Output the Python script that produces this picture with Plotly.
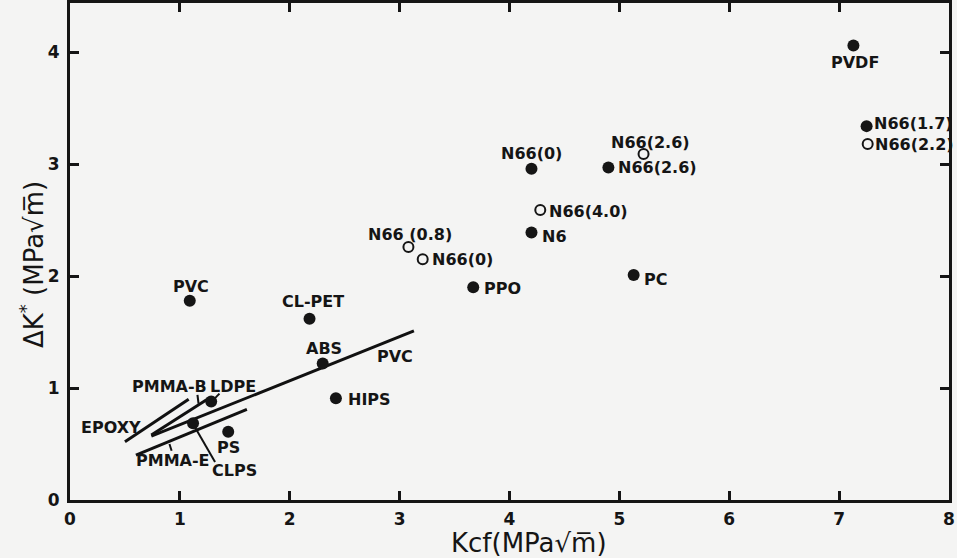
import plotly.graph_objects as go

# ---------------- data ----------------
filled_names = ["PVDF", "N66(1.7)", "N66(2.6)", "N66(0)", "N6", "PC", "PPO", "PVC",
                "CL-PET", "ABS", "HIPS", "LDPE", "CLPS", "PS"]
filled_x = [7.13, 7.25, 4.90, 4.20, 4.20, 5.13, 3.67, 1.09, 2.18, 2.30, 2.42, 1.285, 1.12, 1.44]
filled_y = [4.06, 3.34, 2.97, 2.96, 2.39, 2.01, 1.90, 1.78, 1.62, 1.22, 0.91, 0.88, 0.685, 0.61]

open_names = ["N66(2.2)", "N66(2.6)", "N66(4.0)", "N66(0.8)", "N66(0)"]
open_x = [7.26, 5.22, 4.28, 3.08, 3.21]
open_y = [3.18, 3.09, 2.59, 2.26, 2.15]

# trend lines (start / end)
line_names = ["PVC", "EPOXY", "PMMA-B", "PMMA-E"]
line_x0 = [0.74, 0.50, 0.74, 0.60]
line_y0 = [0.57, 0.52, 0.58, 0.40]
line_x1 = [3.13, 1.08, 1.25, 1.61]
line_y1 = [1.51, 0.90, 0.90, 0.81]

# short leader strokes from labels
leader_names = ["PMMA-B", "LDPE", "PMMA-E", "CLPS"]
leader_x0 = [1.16, 1.32, 0.905, 1.135]
leader_y0 = [0.94, 0.91, 0.50, 0.655]
leader_x1 = [1.17, 1.36, 0.925, 1.32]
leader_y1 = [0.86, 0.95, 0.44, 0.34]

# point / line labels
label_text = ["PVDF", "N66(1.7)", "N66(2.2)", "N66(2.6)", "N66(2.6)", "N66(0)", "N66(4.0)",
              "N6", "N66 (0.8)", "N66(0)", "PC", "PPO", "PVC", "CL-PET", "ABS", "PVC",
              "HIPS", "PMMA-B", "LDPE", "EPOXY", "PS", "PMMA-E", "CLPS"]
label_x = [7.14, 7.30, 7.31, 5.28, 4.97, 4.20, 4.34, 4.28, 3.09, 3.28, 5.21, 3.75, 1.10, 2.21,
           2.31, 2.96, 2.51, 0.91, 1.48, 0.37, 1.44, 0.94, 1.50]
label_y = [3.91, 3.36, 3.18, 3.19, 2.97, 3.10, 2.58, 2.35, 2.37, 2.15, 1.97, 1.89, 1.91, 1.77,
           1.35, 1.28, 0.90, 1.01, 1.01, 0.65, 0.47, 0.35, 0.26]
label_anchor = ["center", "left", "left", "center", "left", "center", "left", "left", "center",
                "left", "left", "left", "center", "center", "center", "center", "left",
                "center", "center", "center", "center", "center", "center"]

x_ticks = [0, 1, 2, 3, 4, 5, 6, 7, 8]
y_ticks = [0, 1, 2, 3, 4]

# ---------------- figure ----------------
fig = go.Figure()

lx, ly = [], []
for a, b, c, d in zip(line_x0, line_y0, line_x1, line_y1):
    lx += [a, c, None]
    ly += [b, d, None]
fig.add_trace(go.Scatter(x=lx, y=ly, mode="lines", line=dict(color="#111111", width=3),
                         hoverinfo="skip", showlegend=False))

kx, ky = [], []
for a, b, c, d in zip(leader_x0, leader_y0, leader_x1, leader_y1):
    kx += [a, c, None]
    ky += [b, d, None]
fig.add_trace(go.Scatter(x=kx, y=ky, mode="lines", line=dict(color="#111111", width=2),
                         hoverinfo="skip", showlegend=False))

fig.add_trace(go.Scatter(x=filled_x, y=filled_y, mode="markers", text=filled_names,
                         marker=dict(symbol="circle", size=12, color="#151515",
                                     line=dict(width=0)),
                         showlegend=False))
fig.add_trace(go.Scatter(x=open_x, y=open_y, mode="markers", text=open_names,
                         marker=dict(symbol="circle-open", size=10, color="#151515",
                                     line=dict(width=2)),
                         showlegend=False))

for t, x, y, a in zip(label_text, label_x, label_y, label_anchor):
    fig.add_annotation(x=x, y=y, text=t, showarrow=False, xanchor=a, yanchor="middle",
                       font=dict(family="DejaVu Sans", size=16, color="#151515", weight="bold"))

# axis titles
fig.add_annotation(xref="paper", yref="paper", x=0.522, y=-0.086, text="Kcf(MPa√m̅)",
                   showarrow=False, xanchor="center", yanchor="middle",
                   font=dict(family="DejaVu Sans", size=26, color="#151515"))
fig.add_annotation(xref="paper", yref="paper", x=-0.043, y=0.473, text="ΔK<sup>*</sup> (MPa√m̅)",
                   showarrow=False, xanchor="center", yanchor="middle", textangle=-90,
                   font=dict(family="DejaVu Sans", size=26, color="#151515"))

axis_common = dict(showgrid=False, zeroline=False, showline=True, linewidth=3,
                   linecolor="#151515", ticks="inside", ticklen=9, tickwidth=2.5,
                   tickcolor="#151515", mirror="allticks", automargin=False,
                   tickfont=dict(family="DejaVu Sans", size=17, color="#151515", weight="bold"))

fig.update_xaxes(range=[0, 8], tickvals=x_ticks, ticktext=[str(v) for v in x_ticks],
                 ticklabelstandoff=2, **axis_common)
fig.update_yaxes(range=[0, 4.44], tickvals=y_ticks, ticktext=[str(v) for v in y_ticks],
                 ticklabelstandoff=4, **axis_common)

fig.update_layout(width=957, height=558, margin=dict(l=70, r=8, t=3, b=58),
                  paper_bgcolor="#f4f4f3", plot_bgcolor="#f4f4f3")

fig.write_html("out.html", config={"displayModeBar": False},
               post_script="document.body.style.margin='0';document.body.style.background='#f4f4f3';")
